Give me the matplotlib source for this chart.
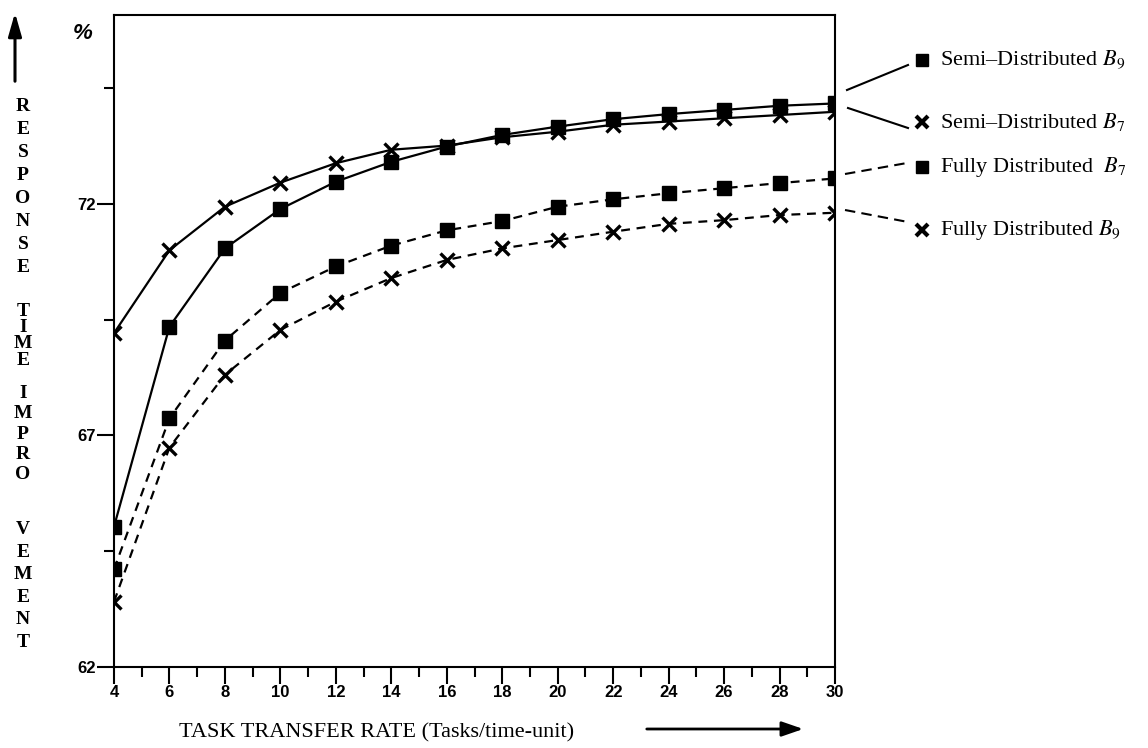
import numpy as np
import matplotlib
matplotlib.use("Agg")
import matplotlib.pyplot as plt
from matplotlib.ticker import MultipleLocator

plt.rcParams['mathtext.fontset'] = 'stix'

# data
rate = [4, 6, 8, 10, 12, 14, 16, 18, 20, 22, 24, 26, 28, 30]
semi_b9 = [65.03, 69.35, 71.04, 71.89, 72.48, 72.91, 73.24, 73.49, 73.67, 73.83, 73.94, 74.03, 74.12, 74.17]
semi_b7 = [69.21, 71.00, 71.94, 72.46, 72.88, 73.17, 73.26, 73.44, 73.56, 73.71, 73.78, 73.85, 73.92, 73.99]
fully_b7 = [64.11, 67.37, 69.05, 70.08, 70.65, 71.10, 71.43, 71.63, 71.94, 72.10, 72.23, 72.34, 72.45, 72.55]
fully_b9 = [63.41, 66.74, 68.31, 69.28, 69.89, 70.40, 70.79, 71.04, 71.22, 71.40, 71.57, 71.65, 71.76, 71.81]

legend_labels = ["Semi\u2013Distributed $B_9$", "Semi\u2013Distributed $B_7$",
                 "Fully Distributed  $B_7$", "Fully Distributed $B_9$"]
ylabel_words = ["RESPONSE", "TIME", "IMPRO", "VEMENT"]
xlabel = "TASK TRANSFER RATE (Tasks/time-unit)"

W, H = 1148, 748
fig = plt.figure(figsize=(W/100, H/100), dpi=100)
ax = fig.add_axes([114/W, 1-667/H, (835-114)/W, (667-15)/H])

series = [(semi_b9, 's', '-'), (semi_b7, 'x', '-'),
          (fully_b7, 's', '--'), (fully_b9, 'x', '--')]
for vals, mk, ls in series:
    line, = ax.plot(rate, vals, color='black', lw=1.6, ls=ls, marker=mk,
                    ms=10 if mk == 'x' else 9.5, mew=2.4 if mk == 'x' else 1)
    if ls == '--':
        line.set_dashes((4, 3))

ax.set_xlim(4, 30)
ax.set_ylim(62, 76.08)
ax.set_xticks(range(4, 31, 2))
ax.xaxis.set_minor_locator(MultipleLocator(1))
ax.set_yticks([62, 67, 72])
ax.set_yticks([64.5, 69.5, 74.5], minor=True)
ax.tick_params(which='major', direction='out', length=12, width=1.5, pad=1, labelsize=12)
ax.tick_params(which='minor', direction='out', length=7, width=1.5)
for lab in ax.get_xticklabels() + ax.get_yticklabels():
    lab.set_family(['Liberation Sans Narrow', 'Liberation Sans'])
    lab.set_fontweight('bold')
for sp in ax.spines.values():
    sp.set_linewidth(1.5)

# overlay in pixel coordinates for the annotations
ov = fig.add_axes([0, 0, 1, 1])
ov.set_xlim(0, W)
ov.set_ylim(H, 0)
ov.axis('off')

ov.text(83, 33, "%", fontsize=16, style='italic', fontweight='bold',
        family='Liberation Sans', ha='center', va='center')

# y label written as stacked letters, with an up arrow
ov.annotate("", xy=(15, 10), xytext=(15, 84),
            arrowprops=dict(arrowstyle='-|>,head_width=0.4,head_length=1.4',
                            color='black', lw=2.2))
starts = [108, 314, 396, 531]
steps = [22.5, 14.5, 19, 22]
fs_y = 14
lp = 0.79 * fs_y * 100 / 72   # height matplotlib uses for one line
for word, y0, dy in zip(ylabel_words, starts, steps):
    yc = y0 + (len(word) - 1) * dy / 2
    ov.text(23, yc, "\n".join(word), fontsize=fs_y, fontweight='bold',
            family='Liberation Serif', ha='center', va='center',
            multialignment='center', linespacing=dy / lp)

# x label and arrow
ov.text(377, 733, xlabel, fontsize=16, family='Liberation Serif',
        ha='center', va='center')
ov.annotate("", xy=(806, 729), xytext=(644, 729),
            arrowprops=dict(arrowstyle='-|>,head_width=0.45,head_length=1.3',
                            color='black', lw=2))

# legend on the right with leader lines
leg_y = [60, 122, 167, 230]
leg_mk = ['s', 'x', 's', 'x']
leader = [((847, 90), (908, 65)), ((848, 108), (908, 128)),
          ((845, 174), (907, 163)), ((845, 210), (908, 222))]
leader_ls = ['-', '-', '--', '--']
for yy, mk, lab, (p0, p1), ls in zip(leg_y, leg_mk, legend_labels, leader, leader_ls):
    ln, = ov.plot([p0[0], p1[0]], [p0[1], p1[1]], color='black', lw=1.5, ls=ls)
    if ls == '--':
        ln.set_dashes((5, 3))
    ov.plot([922], [yy], marker=mk, color='black',
            ms=9 if mk == 's' else 8, mew=3 if mk == 'x' else 1)
    ov.text(940, yy, lab, fontsize=16, family='Liberation Serif',
            ha='left', va='center')

fig.savefig("out.png", dpi=100)
